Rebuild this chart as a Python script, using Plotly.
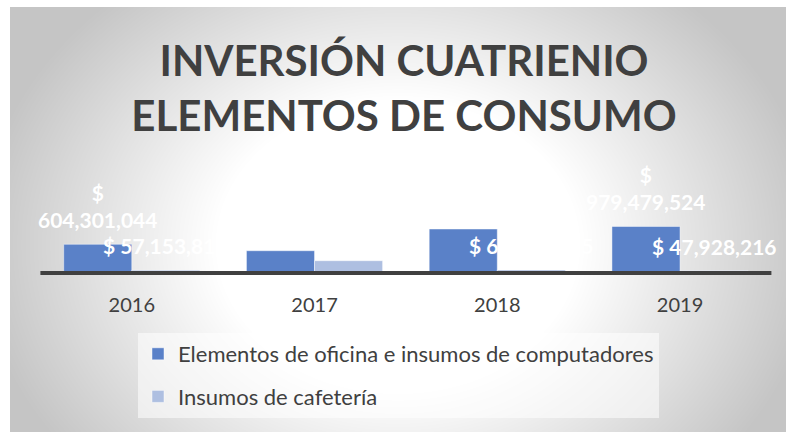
import base64
import struct
import zlib

import numpy as np
import plotly.graph_objects as go

# ---- data -------------------------------------------------------------
years = ["2016", "2017", "2018", "2019"]
oficina = [604301044, 468935210, 925874600, 979479524]
cafeteria = [57153818, 258640300, 62415275, 47928216]
series_names = ["Elementos de oficina e insumos de computadores", "Insumos de cafetería"]
title_lines = ["INVERSIÓN CUATRIENIO", "ELEMENTOS DE CONSUMO"]

# ---- page geometry (pixels) ----------------------------------------------
W, H = 786, 432
FRAME = (10, 7, 786, 432)          # grey card behind the chart
PLOT_X = (40.4, 771.4)             # horizontal extent of the category axis
BASELINE = 273.0                   # pixel row of the value 0
PX_PER_BILLION = 47.5
Y_MIN, Y_MAX = -0.05e9, 2.6e9
BARGAP = 0.255

TEXT = "#404040"
BLUE = "#5a81c8"
LIGHT_BLUE = "#aebfe1"
FONT = "Lato"


def money(v, wrap=False):
    s = f"{v:,}"
    return f"$<br>{s}" if wrap else f"$ {s}"


def backdrop_png():
    """Radial grey-to-white card, encoded as a grayscale PNG data URI."""
    x0, y0, x1, y1 = FRAME
    w, h = x1 - x0, y1 - y0
    yy, xx = np.mgrid[0:h, 0:w].astype(float)
    px = xx + x0 + 0.5
    py = yy + y0 + 0.5
    q = np.hypot((px - 398) / 400, (py - 245) / 320)
    t = np.clip((q - 0.45) / 0.6, 0, 1)
    g = np.round(255 - 58 * t).astype(np.uint8)
    raw = b"".join(b"\x00" + row.tobytes() for row in g)

    def chunk(tag, data):
        return (struct.pack(">I", len(data)) + tag + data
                + struct.pack(">I", zlib.crc32(tag + data) & 0xFFFFFFFF))

    png = (b"\x89PNG\r\n\x1a\n"
           + chunk(b"IHDR", struct.pack(">IIBBBBB", w, h, 8, 0, 0, 0, 0))
           + chunk(b"IDAT", zlib.compress(raw, 9))
           + chunk(b"IEND", b""))
    return "data:image/png;base64," + base64.b64encode(png).decode()


y_dom_bottom = BASELINE - Y_MIN / 1e9 * PX_PER_BILLION
y_dom_top = BASELINE - Y_MAX / 1e9 * PX_PER_BILLION
x_domain = [PLOT_X[0] / W, PLOT_X[1] / W]
y_domain = [1 - y_dom_bottom / H, 1 - y_dom_top / H]

category_px = (PLOT_X[1] - PLOT_X[0]) / len(years)
bar_shift = (1 - BARGAP) * category_px / 4   # centre of each bar relative to its category

fig = go.Figure()
fig.add_trace(go.Bar(
    x=years, y=oficina, name=series_names[0], legendgroup="a",
    marker=dict(color=BLUE, line=dict(color="rgba(255,255,255,0.45)", width=1)),
))
fig.add_trace(go.Bar(
    x=years, y=cafeteria, name=series_names[1], legendgroup="b",
    marker=dict(color=LIGHT_BLUE, line=dict(color="rgba(255,255,255,0.45)", width=1)),
))

# value labels; on a category axis annotations use the category's serial number
label_font = dict(family=FONT, size=21, color="white", weight="bold")
annotations = []
for i, v in enumerate(oficina):
    annotations.append(dict(x=i, y=v, xref="x", yref="y", text=money(v, wrap=True),
                            xshift=-bar_shift, yshift=10, yanchor="bottom",
                            showarrow=False, font=label_font))
for i, v in enumerate(cafeteria):
    annotations.append(dict(x=i, y=v, xref="x", yref="y", text=money(v),
                            xshift=bar_shift, yshift=10, yanchor="bottom",
                            showarrow=False, font=label_font))

fig.update_layout(
    width=W, height=H,
    margin=dict(l=0, r=0, t=0, b=0),
    paper_bgcolor="white",
    plot_bgcolor="rgba(0,0,0,0)",
    barmode="group", bargap=BARGAP, bargroupgap=0,
    title=dict(
        text="<br>".join(title_lines),
        x=404 / W, xanchor="center", y=1 - 76 / H, yanchor="middle",
        font=dict(family=FONT, size=42, color=TEXT, weight="bold"),
    ),
    xaxis=dict(
        type="category", range=[-0.5, len(years) - 0.5],
        domain=x_domain, showgrid=False, zeroline=False, showline=False,
        ticks="outside", ticklen=12, tickcolor="rgba(0,0,0,0)",
        tickfont=dict(family=FONT, size=20, color=TEXT),
    ),
    yaxis=dict(domain=y_domain, range=[Y_MIN, Y_MAX], visible=False),
    legend=dict(
        x=138 / W, y=1 - 333 / H, xanchor="left", yanchor="top",
        bgcolor="rgba(255,255,255,0.55)",
        font=dict(family=FONT, size=22, color=TEXT),
        tracegroupgap=11, traceorder="grouped",
    ),
    showlegend=True,
    annotations=annotations,
    shapes=[dict(type="line", xref="x domain", yref="y", x0=0, x1=1, y0=0, y1=0,
                 line=dict(color=TEXT, width=4), layer="above")],
    images=[dict(source=backdrop_png(), xref="paper", yref="paper",
                 x=FRAME[0] / W, y=1 - FRAME[1] / H,
                 sizex=(FRAME[2] - FRAME[0]) / W, sizey=(FRAME[3] - FRAME[1]) / H,
                 xanchor="left", yanchor="top", sizing="stretch", layer="below")],
)

fig.write_html("out.html")
